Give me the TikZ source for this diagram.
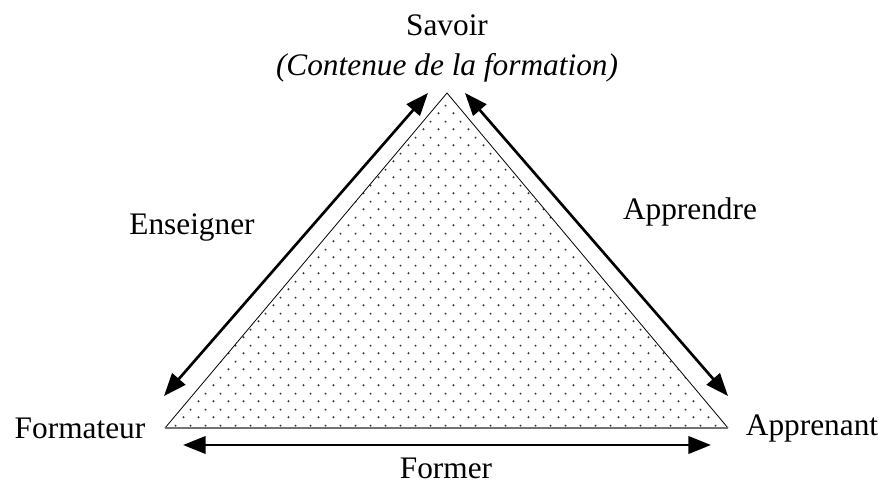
\documentclass[tikz,border=0pt]{standalone}
\usepackage{fontspec}
\setmainfont{Liberation Serif}
\usetikzlibrary{arrows.meta,patterns.meta}
\tikzdeclarepattern{name=semis,type=uncolored,
  bottom left={(0pt,0pt)},top right={(11.25pt,12pt)},tile size={(11.25pt,12pt)},
  code={\fill (2.8pt,3pt) circle (0.85pt); \fill (8.4pt,9pt) circle (0.85pt);}}
\tikzset{
  flow/.style={{Triangle[length=17pt,width=13pt]}-{Triangle[length=17pt,width=13pt]},line width=2pt},
  pole/.style={font=\fontsize{23.5}{28}\selectfont,inner sep=0pt},
  polesub/.style={pole,font=\fontsize{23.5}{28}\selectfont\itshape},
}
\begin{document}
\begin{tikzpicture}[x=.75pt,y=-.75pt]
  \useasboundingbox (0,0) rectangle (883,485);
  % sommets du triangle
  \coordinate (S) at (447,93);
  \coordinate (F) at (165,428);
  \coordinate (A) at (728,428);
  \fill[pattern=semis,pattern color=black!80] (S) -- (F) -- (A) -- cycle;
  \draw[line width=.6pt] (F) -- (S) -- (A);
  \draw[black!55,line width=1.3pt] (F) -- (A);

  % poles
  \node[pole] (savoir) at (447,25) {Savoir};
  \node[polesub] (contenu) at (447,68) {(Contenue de la formation)};
  \node[pole] (formateur) at (80,428) {Formateur};
  \node[pole] (apprenant) at (812,428) {Apprenant};
  \node[pole] (enseigner) at (192,228) {Enseigner};
  \node[pole] (apprendre) at (690,212) {Apprendre};
  \node[pole] (former) at (446,468) {Former};

  % fleches
  \coordinate (ens-a) at (164,396);
  \coordinate (ens-b) at (428,93);
  \coordinate (app-a) at (465,93);
  \coordinate (app-b) at (728,396);
  \coordinate (for-a) at (183,445);
  \coordinate (for-b) at (711,445);
  \draw[flow] (ens-a) -- (ens-b);
  \draw[flow] (app-a) -- (app-b);
  \draw[flow] (for-a) -- (for-b);
\end{tikzpicture}
\end{document}
